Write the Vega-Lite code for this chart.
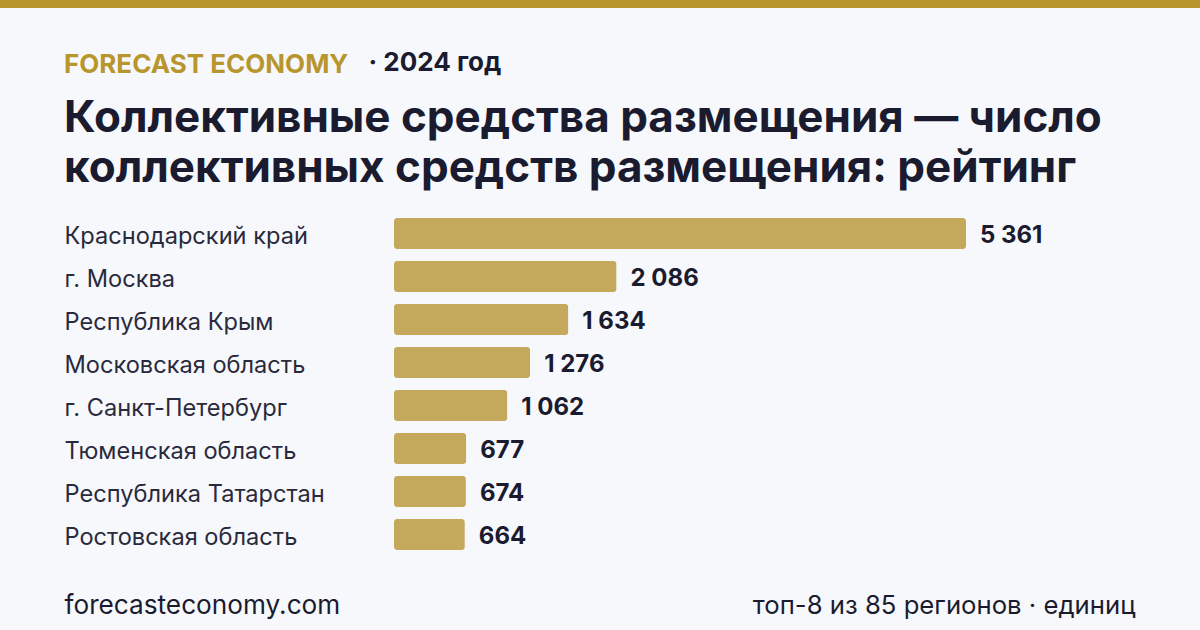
{
  "$schema": "https://vega.github.io/schema/vega-lite/v6.json",
  "width": 1200,
  "height": 622,
  "autosize": {"type": "none"},
  "padding": {"top": 8, "left": 0, "right": 0, "bottom": 0},
  "background": "#b8962e",
  "config": {
    "view": {"fill": "#f7f8fc", "stroke": null},
    "font": "Inter",
    "locale": {"number": {"decimal": ",", "thousands": "\u00a0", "grouping": [3], "currency": ["", " ₽"]}}
  },
  "title": {
    "text": "FORECAST ECONOMY",
    "subtitle": ["Коллективные средства размещения — число", "коллективных средств размещения: рейтинг"],
    "anchor": "start",
    "frame": "group",
    "orient": "top",
    "offset": 0,
    "dx": 64,
    "dy": 183,
    "font": "Inter",
    "fontSize": 26,
    "fontWeight": "bold",
    "color": "#b8962e",
    "subtitleFont": "Inter",
    "subtitleFontSize": 44,
    "subtitleFontWeight": "bold",
    "subtitleColor": "#1b1b2f",
    "subtitleLineHeight": 50,
    "subtitlePadding": 19
  },
  "data": {
    "values": [
      {"region": "Краснодарский край", "value": 5361},
      {"region": "г. Москва", "value": 2086},
      {"region": "Республика Крым", "value": 1634},
      {"region": "Московская область", "value": 1276},
      {"region": "г. Санкт-Петербург", "value": 1062},
      {"region": "Тюменская область", "value": 677},
      {"region": "Республика Татарстан", "value": 674},
      {"region": "Ростовская область", "value": 664}
    ]
  },
  "resolve": {"scale": {"x": "independent"}, "axis": {"x": "independent"}},
  "layer": [
    {
      "mark": {"type": "bar", "cornerRadius": 3, "color": "#c4a95c"},
      "encoding": {
        "y": {
          "field": "region", "type": "nominal", "sort": null,
          "scale": {"range": [204, 548], "paddingInner": 0.28, "paddingOuter": 0.14},
          "axis": {
            "orient": "left", "domain": false, "ticks": false, "tickSize": 0, "grid": false,
            "labelAlign": "left", "labelPadding": -64, "labelLimit": 500, "labelOffset": 3,
            "labelFont": "Inter", "labelFontSize": 23.6, "labelColor": "#2a2a3d",
            "title": "топ-8 из 85 регионов · единиц",
            "titleAngle": 0, "titleX": 1135, "titleY": 605, "titleAlign": "right", "titleBaseline": "alphabetic",
            "titleFont": "Inter", "titleFontSize": 25.7, "titleFontWeight": "normal", "titleColor": "#1b1b2f"
          }
        },
        "x": {
          "field": "value", "type": "quantitative",
          "scale": {"domain": [0, 5361], "range": [394, 966], "nice": false},
          "axis": {
            "orient": "bottom", "domain": false, "ticks": false, "labels": false, "grid": false,
            "title": "forecasteconomy.com",
            "titleX": 64, "titleY": -17, "titleAlign": "left", "titleAnchor": null, "titleBaseline": "alphabetic",
            "titleFont": "Inter", "titleFontSize": 26.2, "titleFontWeight": "normal", "titleColor": "#1b1b2f"
          }
        }
      }
    },
    {
      "mark": {"type": "text", "align": "left", "baseline": "middle", "dx": 14, "dy": 2.5, "font": "Inter", "fontSize": 24, "fontWeight": "bold", "color": "#1b1b2f"},
      "encoding": {
        "y": {"field": "region", "type": "nominal", "sort": null},
        "x": {
          "field": "value", "type": "quantitative",
          "scale": {"domain": [0, 5361], "range": [394, 966], "nice": false},
          "axis": {
            "orient": "top", "domain": false, "ticks": false, "labels": false, "grid": false,
            "title": "· 2024 год",
            "titleX": 368, "titleY": 62, "titleAlign": "left", "titleAnchor": null, "titleBaseline": "alphabetic",
            "titleFont": "Inter", "titleFontSize": 26, "titleFontWeight": "bold", "titleColor": "#1b1b2f"
          }
        },
        "text": {"field": "value", "type": "quantitative", "format": ",d"}
      }
    }
  ]
}
